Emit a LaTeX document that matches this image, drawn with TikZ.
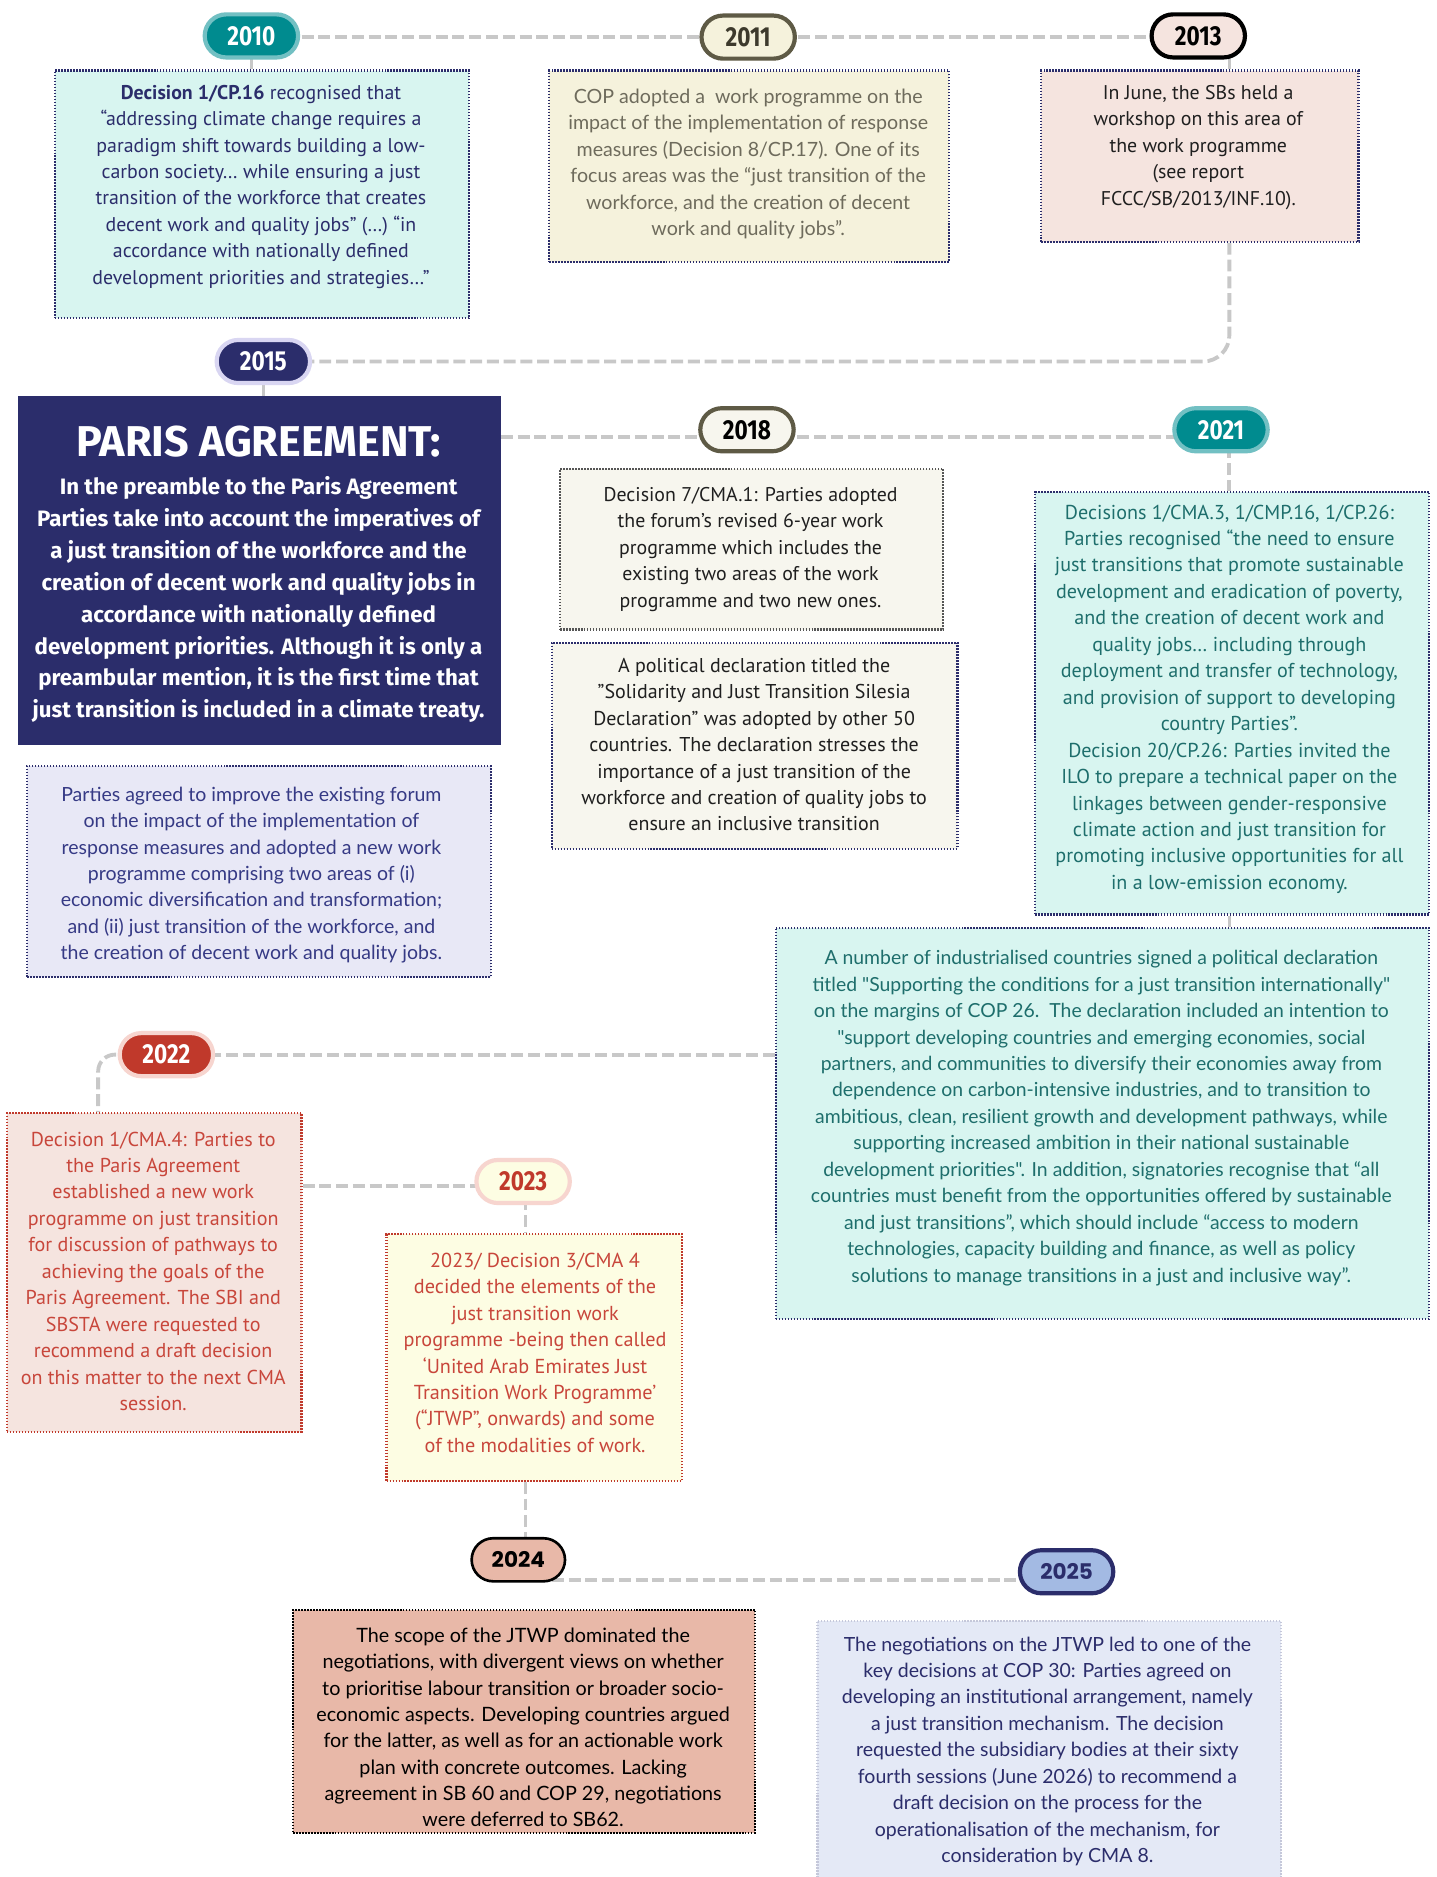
\documentclass[tikz,border=0pt]{standalone}
\usepackage{fontspec}
\setmainfont{PT Sans}
\newfontfamily\latof{Lato}
\newfontfamily\yearf{Fira Sans}[FakeStretch=0.82]
\newfontfamily\popf{Poppins}
\newfontfamily\parisf{Fira Sans}
\definecolor{teal}{HTML}{008B8F}
\definecolor{tealb}{HTML}{72C0C3}
\definecolor{navy}{HTML}{2B2D6B}
\definecolor{lavb}{HTML}{D9D6F2}
\definecolor{cream}{HTML}{F5F2DC}
\definecolor{olive}{HTML}{5E5A45}
\definecolor{olivet}{HTML}{3D3A2C}
\definecolor{pinkb}{HTML}{F5E4DF}
\definecolor{redc}{HTML}{C0392B}
\definecolor{redt}{HTML}{C8463B}
\definecolor{redlb}{HTML}{F7D5CF}
\definecolor{yelc}{HTML}{FDFDE3}
\definecolor{salmon}{HTML}{E8B8A8}
\definecolor{bluel}{HTML}{A3BAE3}
\definecolor{mint}{HTML}{D8F5F0}
\definecolor{lav}{HTML}{E8E8F6}
\definecolor{offw}{HTML}{F7F6EE}
\definecolor{paleb}{HTML}{E4E9F6}
\definecolor{paleborder}{HTML}{C5C8DA}
\definecolor{tealt}{HTML}{1E6E6C}
\definecolor{grayt}{HTML}{6E6B5C}
\definecolor{lavt}{HTML}{363A85}
\definecolor{linegray}{HTML}{C8C8C8}
\definecolor{darkg}{HTML}{555555}
\pgfdeclarelayer{bg}
\pgfsetlayers{bg,main}
\begin{document}
\begin{tikzpicture}[x=1pt,y=-1pt,
  pill/.style={rectangle, rounded corners=18pt, minimum width=78pt, minimum height=36pt,
    line width=3.5pt, inner sep=0pt, font=\yearf\bfseries\fontsize{23}{23}\selectfont},
  pillb/.style={pill, font=\popf\bfseries\fontsize{18}{18}\selectfont},
  infobox/.style={rectangle, line width=1.8pt, dash pattern=on 1.2pt off 1.3pt,
    inner sep=0pt, anchor=north west},
  conn/.style={draw=linegray, line width=3.2pt, dash pattern=on 10pt off 4pt},
  stub/.style={draw=linegray, line width=3pt},
  txt/.style={align=center, inner sep=0pt}
]
\useasboundingbox (0,0) rectangle (1200,1568);

% ---------- boxes ----------
\node[infobox, fill=mint, draw=navy, minimum width=346pt, minimum height=207pt] (b2010) at (45,58) {};
\node[infobox, fill=cream, draw=navy, minimum width=334pt, minimum height=160pt] (b2011) at (458,58) {};
\node[infobox, fill=pinkb, draw=navy, minimum width=265pt, minimum height=143pt] (b2013) at (869,58) {};
\node[rectangle, anchor=north west, fill=navy, inner sep=0pt, minimum width=403pt, minimum height=291pt] (paris) at (15,331) {};
\node[infobox, fill=lav, draw=navy, minimum width=387pt, minimum height=176pt] (b2015) at (22,639) {};
\node[infobox, fill=offw, draw=darkg, minimum width=320pt, minimum height=134pt] (b2018a) at (467,391) {};
\node[infobox, fill=offw, draw=navy, minimum width=339pt, minimum height=172pt] (b2018b) at (460,536) {};
\node[infobox, fill=mint, draw=navy, minimum width=329pt, minimum height=353pt] (b2021) at (864,410) {};
\node[infobox, fill=mint, draw=navy, minimum width=546pt, minimum height=327pt] (big) at (647,774) {};
\node[infobox, fill=pinkb, draw=redc, minimum width=246pt, minimum height=266pt] (b2022) at (5,929) {};
\node[infobox, fill=yelc, draw=redc, minimum width=247pt, minimum height=206pt] (b2023) at (322,1030) {};
\node[infobox, fill=salmon, draw=black, minimum width=386pt, minimum height=186pt] (b2024) at (244,1344) {};
\node[infobox, fill=paleb, draw=paleborder, minimum width=387pt, minimum height=240pt] (b2025) at (682,1353) {};

% ---------- pills ----------
\node[pill, fill=teal, draw=tealb, text=white] (p2010) at (210,30) {2010};
\node[pill, fill=cream, draw=olive, text=olivet] (p2011) at (625,31) {2011};
\node[pill, fill=pinkb, draw=black, text=black] (p2013) at (1001,30) {2013};
\node[pill, fill=navy, draw=lavb, text=white] (p2015) at (220,302) {2015};
\node[pill, fill=offw, draw=olive, text=black] (p2018) at (624,359) {2018};
\node[pill, fill=teal, draw=tealb, text=white] (p2021) at (1020,359) {2021};
\node[pill, fill=redc, draw=redlb, text=white] (p2022) at (139,881) {2022};
\node[pill, fill=yelc, draw=redlb, text=redc] (p2023) at (437,987) {2023};
\node[pillb, fill=salmon, draw=black, line width=2.2pt, text=black] (p2024) at (433,1303) {2024};
\node[pillb, fill=bluel, draw=navy, text=navy] (p2025) at (891,1313) {2025};

% ---------- texts ----------
\node[txt, text=navy, font=\fontsize{16.6}{22.1}\selectfont] (t2010) at (218,156) {%
\textbf{Decision 1/CP.16} recognised that\\
“addressing climate change requires a\\
paradigm shift towards building a low-\\
carbon society… while ensuring a just\\
transition of the workforce that creates\\
decent work and quality jobs” (…) “in\\
accordance with nationally defined\\
development priorities and strategies…”};

\node[txt, text=grayt, font=\latof\fontsize{16.4}{22.1}\selectfont] (t2011) at (625,137) {%
COP adopted a\ \ work programme on the\\
impact of the implementation of response\\
measures (Decision 8/CP.17). One of its\\
focus areas was the “just transition of the\\
workforce, and the creation of decent\\
work and quality jobs”.};

\node[txt, text=black!88, font=\fontsize{16.6}{22.1}\selectfont] (t2013) at (1001,123) {%
In June, the SBs held a\\
workshop on this area of\\
the work programme\\
(see report\\
FCCC/SB/2013/INF.10).};

\node[txt, text=white, font=\parisf\bfseries\fontsize{36}{36}\selectfont] (tparis) at (216,369) {PARIS AGREEMENT:};
\node[txt, text=white, font=\parisf\bfseries\fontsize{18.6}{26.6}\selectfont] (tparisb) at (216,501) {%
In the preamble to the Paris Agreement\\
Parties take into account the imperatives of\\
a just transition of the workforce and the\\
creation of decent work and quality jobs in\\
accordance with nationally defined\\
development priorities. Although it is only a\\
preambular mention, it is the first time that\\
just transition is included in a climate treaty.};

\node[txt, text=lavt, font=\latof\fontsize{16.3}{22.1}\selectfont] (t2015) at (210,731) {%
Parties agreed to improve the existing forum\\
on the impact of the implementation of\\
response measures and adopted a new work\\
programme comprising two areas of (i)\\
economic diversification and transformation;\\
and (ii) just transition of the workforce, and\\
the creation of decent work and quality jobs.};

\node[txt, text=black!88, font=\fontsize{16.6}{22.1}\selectfont] (t2018a) at (627,459) {%
Decision 7/CMA.1: Parties adopted\\
the forum’s revised 6-year work\\
programme which includes the\\
existing two areas of the work\\
programme and two new ones.};

\node[txt, text=black!88, font=\fontsize{16.7}{22.1}\selectfont] (t2018b) at (630,622) {%
A political declaration titled the\\
"Solidarity and Just Transition Silesia\\
Declaration" was adopted by other 50\\
countries. The declaration stresses the\\
importance of a just transition of the\\
workforce and creation of quality jobs to\\
ensure an inclusive transition};

\node[txt, text=tealt, font=\fontsize{16.8}{22.1}\selectfont] (t2021) at (1027,584) {%
Decisions 1/CMA.3, 1/CMP.16, 1/CP.26:\\
Parties recognised “the need to ensure\\
just transitions that promote sustainable\\
development and eradication of poverty,\\
and the creation of decent work and\\
quality jobs… including through\\
deployment and transfer of technology,\\
and provision of support to developing\\
country Parties”.\\
Decision 20/CP.26: Parties invited the\\
ILO to prepare a technical paper on the\\
linkages between gender-responsive\\
climate action and just transition for\\
promoting inclusive opportunities for all\\
in a low-emission economy.};

\node[txt, text=tealt, font=\latof\fontsize{16.2}{22.1}\selectfont] (tbig) at (920,934) {%
A number of industrialised countries signed a political declaration\\
titled "Supporting the conditions for a just transition internationally"\\
on the margins of COP 26.\ \ The declaration included an intention to\\
"support developing countries and emerging economies, social\\
partners, and communities to diversify their economies away from\\
dependence on carbon-intensive industries, and to transition to\\
ambitious, clean, resilient growth and development pathways, while\\
supporting increased ambition in their national sustainable\\
development priorities". In addition, signatories recognise that “all\\
countries must benefit from the opportunities offered by sustainable\\
and just transitions”, which should include “access to modern\\
technologies, capacity building and finance, as well as policy\\
solutions to manage transitions in a just and inclusive way”.};

\node[txt, text=redt, font=\fontsize{16.8}{22.1}\selectfont] (t2022) at (128,1062) {%
Decision 1/CMA.4: Parties to\\
the Paris Agreement\\
established a new work\\
programme on just transition\\
for discussion of pathways to\\
achieving the goals of the\\
Paris Agreement. The SBI and\\
SBSTA were requested to\\
recommend a draft decision\\
on this matter to the next CMA\\
session.};

\node[txt, text=redt, font=\fontsize{16.9}{22.1}\selectfont] (t2023) at (447,1130) {%
2023/ Decision 3/CMA 4\\
decided the elements of the\\
just transition work\\
programme -being then called\\
‘United Arab Emirates Just\\
Transition Work Programme’\\
(“JTWP”, onwards) and some\\
of the modalities of work.};

\node[txt, text=black, font=\latof\fontsize{16.5}{22}\selectfont] (t2024) at (437,1443) {%
The scope of the JTWP dominated the\\
negotiations, with divergent views on whether\\
to prioritise labour transition or broader socio-\\
economic aspects. Developing countries argued\\
for the latter, as well as for an actionable work\\
plan with concrete outcomes. Lacking\\
agreement in SB 60 and COP 29, negotiations\\
were deferred to SB62.};

\node[txt, text=navy, font=\latof\fontsize{16.3}{22.1}\selectfont] (t2025) at (875,1463) {%
The negotiations on the JTWP led to one of the\\
key decisions at COP 30: Parties agreed on\\
developing an institutional arrangement, namely\\
a just transition mechanism. The decision\\
requested the subsidiary bodies at their sixty\\
fourth sessions (June 2026) to recommend a\\
draft decision on the process for the\\
operationalisation of the mechanism, for\\
consideration by CMA 8.};

% ---------- helper coordinates ----------
\coordinate (c13) at (1027,0);
\coordinate (lA) at (0,31);
\coordinate (lB) at (0,365);
\coordinate (c22) at (82,0);
\coordinate (l23) at (0,991);
\coordinate (c23) at (439,0);
\coordinate (l24) at (0,1320);

% ---------- connectors ----------
\begin{pgfonlayer}{bg}
\fill[white] (0,0) rectangle (1200,1568);
\draw[conn] (p2010.center |- lA) -- (p2011.center |- lA);
\draw[conn] (p2011.center |- lA) -- (p2013.center |- lA);
\draw[stub] (p2010.center) -- (p2010.center |- b2010.north);
\draw[stub] (p2013.center -| c13) -- (b2013.north -| c13);
\draw[conn, rounded corners=22pt] (b2013.south -| c13) |- (p2015.center);
\draw[stub] (p2015.center) -- (p2015.center |- paris.north);
\draw[conn] (paris.east |- lB) -- (p2018.center |- lB);
\draw[conn] (p2018.center |- lB) -- (p2021.center |- lB);
\draw[conn] (p2021.center -| c13) -- (b2021.north -| c13);
\draw[stub] (b2021.south -| c13) -- (big.north -| c13);
\draw[conn] (big.west |- p2022.center) -- (p2022.center);
\draw[conn, rounded corners=14pt] (p2022.center) -| (b2022.north -| c22);
\draw[conn] (b2022.east |- l23) -- (p2023.center |- l23);
\draw[conn] (p2023.center -| c23) -- (b2023.north -| c23);
\draw[conn] (b2023.south -| c23) -- (p2024.center -| c23);
\draw[conn] (p2024.center |- l24) -- (p2025.center |- l24);
\end{pgfonlayer}
\end{tikzpicture}
\end{document}
